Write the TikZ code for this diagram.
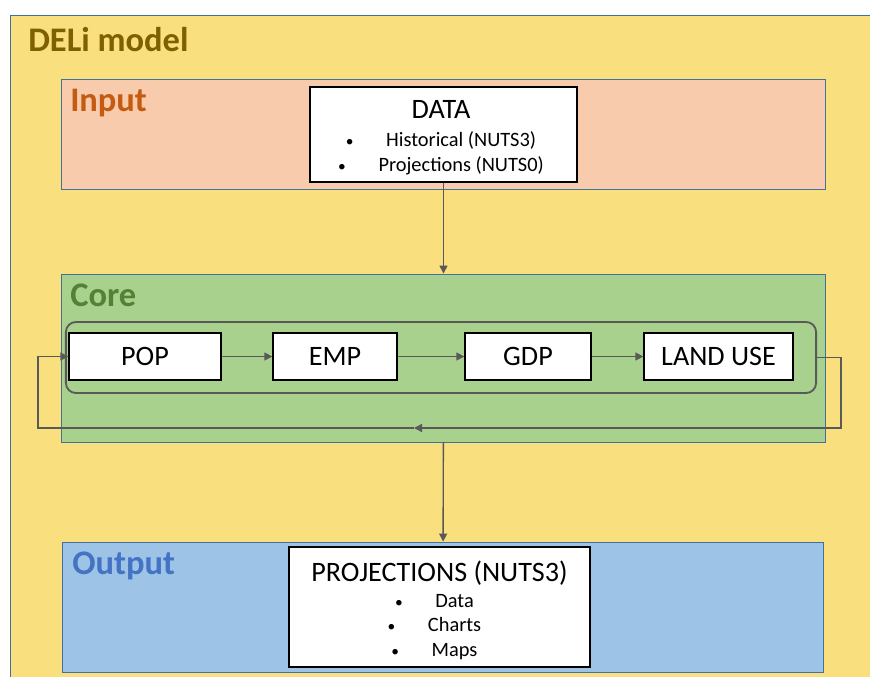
\documentclass[tikz,border=0pt]{standalone}
\usepackage{fontspec}
\setmainfont{Carlito}
\usetikzlibrary{arrows.meta}
\definecolor{deliyellow}{HTML}{F9DF7D}
\definecolor{inpeach}{HTML}{F8CBAD}
\definecolor{coregreen}{HTML}{A9D18E}
\definecolor{outblue}{HTML}{9DC3E6}
\definecolor{frameblue}{HTML}{41719C}
\definecolor{arrowgray}{HTML}{595959}
\definecolor{delitext}{HTML}{7F6000}
\definecolor{intext}{HTML}{C55A11}
\definecolor{coretext}{HTML}{538135}
\definecolor{outtext}{HTML}{4472C4}
\newcommand{\blt}{{\fontsize{11}{12}\selectfont\textbullet}\hspace{1.6em}}
\begin{document}
\begin{tikzpicture}[x=0.025cm, y=-0.025cm, >={Triangle[length=0.2cm,width=0.2cm]}]
        \tikzset{region/.style={draw=frameblue, line width=0.6pt, minimum width=19.075cm, inner sep=0pt},
                 title/.style={anchor=west, inner sep=0pt, font=\fontsize{24.5}{29}\selectfont\bfseries},
                 box/.style={draw=black, fill=white, line width=0.9pt, inner sep=0pt, minimum height=1.175cm, align=center, font=\fontsize{20}{24}\selectfont},
                 frame/.style={draw=black, fill=white, line width=0.9pt, inner sep=0pt},
                 listtext/.style={inner sep=0pt, align=center, font=\fontsize{14.5}{17.4}\selectfont},
                 flow/.style={->, draw=arrowgray, line width=1pt}}
        \clip (0,0) rectangle (870,677);
        \useasboundingbox (0,0) rectangle (870,677);
        \draw[draw=frameblue, line width=0.6pt, fill=deliyellow] (10,15) rectangle (890,700);
        \node[title, text=delitext] (deli) at (28,40) {DELi model};
        % input
        \node[region, fill=inpeach, minimum height=2.75cm] (input) at (443.5,134) {};
        \node[title, text=intext] (inlabel) at (70,103) {Input};
        \node[frame, minimum width=6.675cm, minimum height=2.375cm] (data) at (443.5,134.5) {};
        \node[listtext] (datatext) at (441,137.5)
            {{\fontsize{20}{24}\selectfont DATA}\\[3pt]
             \blt Historical (NUTS3)\\
             \blt Projections (NUTS0)};
        % core
        \node[region, fill=coregreen, minimum height=4.2cm] (core) at (443.5,358) {};
        \node[title, text=coretext] (corelabel) at (70,295) {Core};
        \node[draw=arrowgray, line width=1.3pt, rounded corners=0.25cm, minimum width=18.75cm, minimum height=1.775cm, inner sep=0pt] (chain) at (441,357.5) {};
        \node[box, minimum width=3.8cm] (pop) at (145,356.5) {POP};
        \node[box, minimum width=3.1cm] (emp) at (335,356.5) {EMP};
        \node[box, minimum width=3.15cm] (gdp) at (528,356.5) {GDP};
        \node[box, minimum width=3.725cm] (land) at (718.5,356.5) {LAND USE};
        \draw[flow] (pop) -- (emp);
        \draw[flow] (emp) -- (gdp);
        \draw[flow] (gdp) -- (land);
        \coordinate (loopR) at (841,428);
        \coordinate (loopM) at (414,428);
        \coordinate (loopL) at (38,428);
        \draw[flow] (chain.east) -| (loopR) -- (loopM);
        \draw[flow] (loopM) -- (loopL) |- (pop.west);
        % output
        \node[region, fill=outblue, minimum width=19cm, minimum height=3.25cm] (output) at (443,607) {};
        \node[title, text=outtext] (outlabel) at (72,566) {Output};
        \node[frame, minimum width=7.525cm, minimum height=3cm] (proj) at (439.5,607) {};
        \node[listtext] (projtext) at (439.5,610)
            {{\fontsize{20}{24}\selectfont PROJECTIONS (NUTS3)}\\[1pt]
             \hspace{-0.5em}\blt Data\\
             \hspace{-0.5em}\blt Charts\\
             \hspace{-0.5em}\blt Maps};
        \draw[flow] (data) -- (core);
        \draw[flow] (core) -- (output);
\end{tikzpicture}
\end{document}
